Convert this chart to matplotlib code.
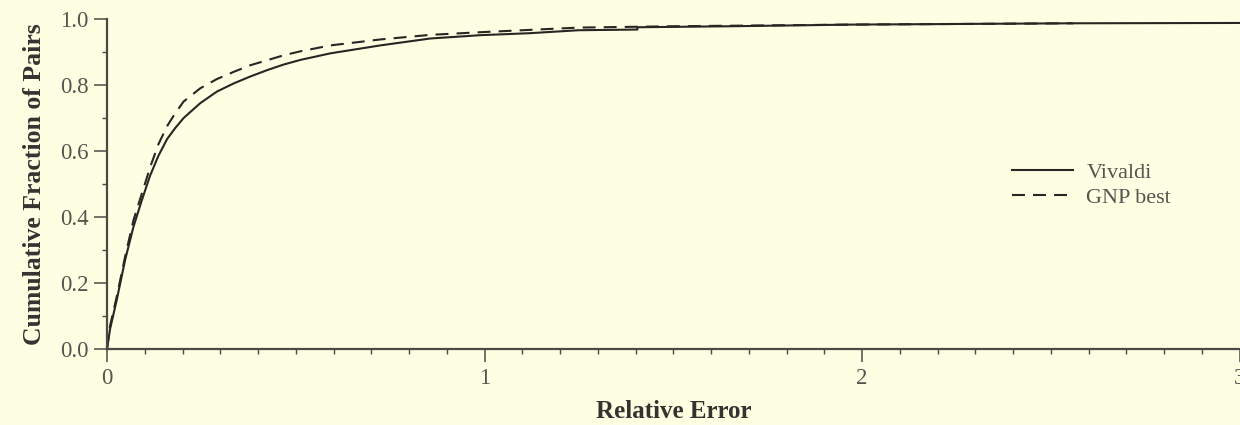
import matplotlib
matplotlib.use("Agg")
import matplotlib.pyplot as plt

# cumulative fraction of pairs vs relative error
x_vivaldi = [0, 0.008, 0.026, 0.048, 0.07, 0.092, 0.114, 0.136, 0.159, 0.181,
             0.203, 0.247, 0.291, 0.336, 0.38, 0.424, 0.468, 0.512, 0.592,
             0.724, 0.857, 0.99, 1.12, 1.25, 1.405, 1.405, 1.65, 1.97, 2.56, 3.0]
y_vivaldi = [0, 0.06, 0.15, 0.27, 0.37, 0.45, 0.525, 0.585, 0.636, 0.67,
             0.70, 0.745, 0.78, 0.805, 0.826, 0.845, 0.862, 0.876, 0.896,
             0.92, 0.941, 0.951, 0.957, 0.966, 0.968, 0.975, 0.978, 0.983,
             0.987, 0.988]

x_gnp = [0, 0.008, 0.026, 0.048, 0.07, 0.092, 0.114, 0.136, 0.159, 0.181,
         0.203, 0.247, 0.291, 0.336, 0.38, 0.424, 0.468, 0.512, 0.592, 0.724,
         0.857, 0.99, 1.12, 1.25, 1.5, 1.97, 2.56]
y_gnp = [0, 0.07, 0.16, 0.28, 0.39, 0.47, 0.55, 0.62, 0.675, 0.715,
         0.75, 0.79, 0.818, 0.84, 0.86, 0.875, 0.89, 0.902, 0.92, 0.938,
         0.952, 0.96, 0.967, 0.974, 0.978, 0.983, 0.987]

series_labels = ["Vivaldi", "GNP best"]
x_ticks = [0, 1, 2, 3]
y_ticks = [0.0, 0.2, 0.4, 0.6, 0.8, 1.0]

bg = "#FEFEE3"
ink = "#262623"
spine_col = "#4a4a45"
label_col = "#55554f"

plt.rcParams["font.family"] = ["Liberation Serif", "DejaVu Serif"]

fig = plt.figure(figsize=(12.4, 4.25), dpi=100, facecolor=bg)
ax = fig.add_axes([0.0863, 0.1788, 0.9133, 0.7765], facecolor=bg)

lw = 1.5
ax.plot(x_vivaldi, y_vivaldi, color=ink, lw=lw, label=series_labels[0])
ax.plot(x_gnp, y_gnp, color=ink, lw=lw, linestyle=(0, (6.2, 3.9)),
        label=series_labels[1])

ax.set_xlim(0, 3)
ax.set_ylim(0, 1.0)
ax.set_xticks(x_ticks)
ax.set_xticklabels([str(t) for t in x_ticks])
ax.set_yticks(y_ticks)
ax.set_yticklabels([f"{t:.1f}" for t in y_ticks])
ax.set_xticks([i / 10 for i in range(31)], minor=True)
ax.set_yticks([i / 10 for i in range(11)], minor=True)

for side in ["top", "right"]:
    ax.spines[side].set_visible(False)
for side in ["left", "bottom"]:
    ax.spines[side].set_color(spine_col)
    ax.spines[side].set_linewidth(1.6)

ax.tick_params(which="major", direction="out", length=9.4, width=1.1,
               color=spine_col, labelcolor=label_col, labelsize=16.5, pad=4)
ax.tick_params(which="minor", direction="out", length=3.4, width=1.0,
               color=spine_col)

ax.set_xlabel("Relative Error", fontsize=18, fontweight="bold", color="#33332f",
              labelpad=8)
ax.set_ylabel("Cumulative Fraction of Pairs", fontsize=18.5, fontweight="bold",
              color="#33332f", labelpad=10)

leg = ax.legend(loc="center left", bbox_to_anchor=(0.816, 0.565),
                bbox_transform=fig.transFigure, frameon=False, fontsize=16,
                handlelength=2.75, handletextpad=0.6, labelspacing=0.2,
                borderpad=0, borderaxespad=0)
for t in leg.get_texts():
    t.set_color(label_col)

fig.savefig("out.png", dpi=100, facecolor=bg)
